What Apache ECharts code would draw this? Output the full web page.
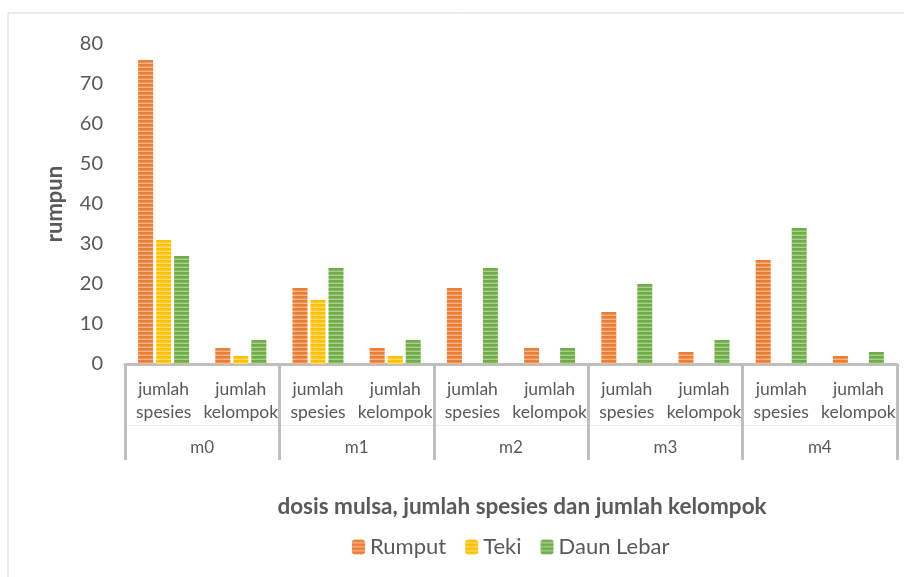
<!DOCTYPE html>
<html><head><meta charset="utf-8">
<script src="https://cdn.jsdelivr.net/npm/echarts@6/dist/echarts.min.js"></script>
<style>html,body{margin:0;padding:0;background:#fff}#c{width:904px;height:577px}</style>
</head><body><div id="c"></div>
<script>
const groups = ['m0','m1','m2','m3','m4'];
const subCats = ['jumlah\nspesies','jumlah\nkelompok'];
const categories = [];
groups.forEach(g => subCats.forEach(s => categories.push(g + '|' + s)));
const rumput = [76, 4, 19, 4, 19, 4, 13, 3, 26, 2];
const teki = [31, 2, 16, 2, 0, 0, 0, 0, 0, 0];
const daunLebar = [27, 6, 24, 6, 24, 4, 20, 6, 34, 3];
const yTicks = [0, 80, 10];

function stripe(dark, light) {
  const c = document.createElement('canvas');
  c.width = 4; c.height = 4;
  const x = c.getContext('2d');
  x.fillStyle = light; x.fillRect(0, 0, 4, 4);
  x.fillStyle = dark; x.fillRect(0, 0, 4, 2.6);
  return { image: c, repeat: 'repeat' };
}
const orange = stripe('#ED7D31', '#F5B58C');
const yellow = stripe('#FFC000', '#FFDB70');
const green = stripe('#70AD47', '#AAD08F');

const font = 'Lato, "Open Sans", sans-serif';
const chart = echarts.init(document.getElementById('c'));
chart.setOption({
  animation: false,
  textStyle: { fontFamily: font },
  graphic: [{ type: 'rect', shape: { x: 8, y: 13, width: 920, height: 600 }, style: { fill: 'none', stroke: '#d9d9d9', lineWidth: 1 }, silent: true }],
  title: { text: 'dosis mulsa, jumlah spesies dan jumlah kelompok', left: 517, textAlign: 'center', top: 490,
    textStyle: { fontFamily: font, fontSize: 22.5, fontWeight: 'bold', color: '#595959' } },
  legend: { bottom: 14, left: 347, itemWidth: 13, itemHeight: 15, itemGap: 19,
    textStyle: { fontFamily: font, fontSize: 22, color: '#595959' },
    data: ['Rumput','Teki','Daun Lebar'] },
  grid: { left: 125, right: 7, top: 44, bottom: 213 },
  xAxis: [
    { type: 'category', data: categories,
      axisLine: { lineStyle: { color: '#bfbfbf', width: 3 } },
      axisTick: { show: false },
      axisLabel: { interval: 0, margin: 14, fontSize: 17.5, lineHeight: 23, color: '#595959', fontFamily: font,
        formatter: v => v.split('|')[1] } },
    { type: 'category', data: groups, position: 'bottom',
      axisLine: { show: false },
      axisTick: { show: true, length: 96, lineStyle: { color: '#bfbfbf', width: 3 } },
      axisLabel: { margin: 75, fontSize: 17, color: '#595959', fontFamily: font } },
    { type: 'category', data: groups, position: 'bottom', offset: 61,
      axisLine: { show: true, lineStyle: { color: '#ececec', width: 1 } },
      axisTick: { show: false }, axisLabel: { show: false } }
  ],
  yAxis: { type: 'value', min: yTicks[0], max: yTicks[1], interval: yTicks[2],
    name: 'rumpun', nameLocation: 'middle', nameGap: 59, nameRotate: 90,
    nameTextStyle: { fontFamily: font, fontSize: 22, fontWeight: 'bold', color: '#595959' },
    axisLine: { show: false }, axisTick: { show: false }, splitLine: { show: false },
    axisLabel: { fontSize: 20, margin: 22, color: '#595959', fontFamily: font } },
  series: [
    { name: 'Rumput', type: 'bar', data: rumput, barWidth: 15, barGap: '20%', itemStyle: { color: orange } },
    { name: 'Teki', type: 'bar', data: teki, barWidth: 15, barGap: '20%', itemStyle: { color: yellow } },
    { name: 'Daun Lebar', type: 'bar', data: daunLebar, barWidth: 15, barGap: '20%', itemStyle: { color: green } }
  ]
});
</script></body></html>
